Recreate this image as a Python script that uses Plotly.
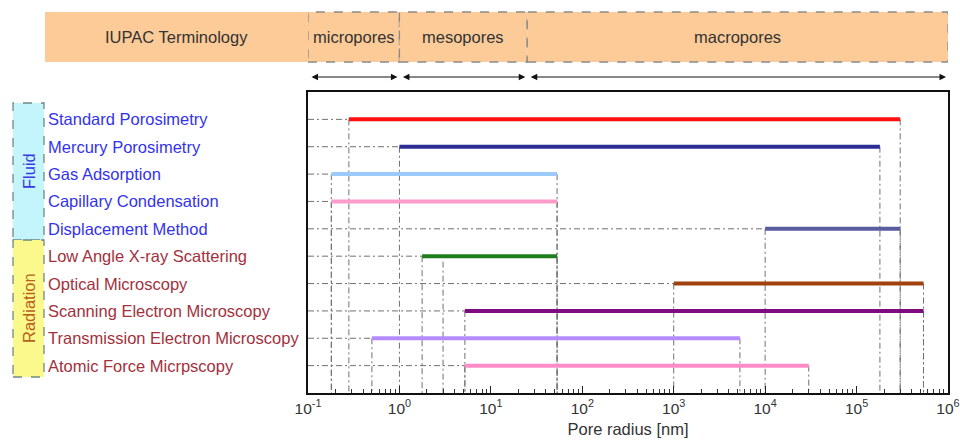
import math
import plotly.graph_objects as go

# ---------------- data ----------------
methods = ["Standard Porosimetry", "Mercury Porosimetry", "Gas Adsorption",
           "Capillary Condensation", "Displacement Method",
           "Low Angle X-ray Scattering", "Optical Microscopy",
           "Scanning Electron Microscopy", "Transmission Electron Microscopy",
           "Atomic Force Micrpscopy"]
groups = ["Fluid"] * 5 + ["Radiation"] * 5
range_min = [0.28, 1.0, 0.18, 0.18, 1.0e4, 1.77, 1.0e3, 5.2, 0.5, 5.2]   # nm
range_max = [3.0e5, 1.8e5, 53, 53, 3.0e5, 53, 5.4e5, 5.4e5, 5.3e3, 3.0e4]  # nm
bar_colors = ["#FF1010", "#2B2D94", "#9CCBFA", "#FF9CCB", "#5A5C9E",
              "#1E7E1E", "#A0420C", "#7E0C80", "#B58CFF", "#FF8CC8"]
extra_guides_x = [3.0]        # stray vertical guide below Low Angle X-ray row
extra_guides_row = [6]

iupac_names = ["micropores", "mesopores", "macropores"]
iupac_bounds = [0.1, 1.0, 25.0, 1.0e6]

tick_vals = [0.1, 1, 10, 100, 1e3, 1e4, 1e5, 1e6]
tick_text = ["10<sup>-1</sup>", "10<sup>0</sup>", "10<sup>1</sup>", "10<sup>2</sup>",
             "10<sup>3</sup>", "10<sup>4</sup>", "10<sup>5</sup>", "10<sup>6</sup>"]

# ---------------- figure ----------------
W, H = 960, 442
ML, MR, MT, MB = 308, 12, 92, 49
PH = H - MT - MB
PW = W - ML - MR

def py(pix):  # pixel y (from top) -> paper y
    return (H - MB - pix) / PH

def px(pix):  # pixel x -> paper x
    return (pix - ML) / PW

FONT = "Liberation Sans, Arial, sans-serif"
GUIDE = dict(color="#707070", width=1, dash="6px,3px,2px,3px")
x_left = iupac_bounds[0]
y_bottom = len(methods) + 1

fig = go.Figure()
rows = list(range(1, len(methods) + 1))

# horizontal guides (axis -> start of range)
for r, lo in zip(rows, range_min):
    fig.add_trace(go.Scatter(x=[x_left, lo], y=[r, r], mode="lines",
                             line=GUIDE, hoverinfo="skip", showlegend=False))
# vertical guides (each end of range -> x axis)
for r, lo, hi in zip(rows, range_min, range_max):
    for v in (lo, hi):
        fig.add_trace(go.Scatter(x=[v, v], y=[r, y_bottom], mode="lines",
                                 line=GUIDE, hoverinfo="skip", showlegend=False))
for v, r in zip(extra_guides_x, extra_guides_row):
    fig.add_trace(go.Scatter(x=[v, v], y=[r + 0.2, y_bottom], mode="lines",
                             line=GUIDE, hoverinfo="skip", showlegend=False))
# range bars
for r, lo, hi, c, name in zip(rows, range_min, range_max, bar_colors, methods):
    fig.add_trace(go.Scatter(x=[lo, hi], y=[r, r], mode="lines", name=name,
                             line=dict(color=c, width=4), showlegend=False))

shapes = []
ann = []

# IUPAC header
PEACH = "#FCCB98"
shapes.append(dict(type="rect", xref="paper", yref="paper",
                   x0=px(45), x1=0, y0=py(62), y1=py(12),
                   fillcolor=PEACH, line=dict(width=0), layer="below"))
ann.append(dict(xref="paper", yref="paper", x=px(45) / 2, y=py(37),
                xanchor="center", yanchor="middle",
                text="IUPAC Terminology", showarrow=False,
                font=dict(size=16.5, color="#333333", family=FONT)))
for i, name in enumerate(iupac_names):
    a, b = iupac_bounds[i], iupac_bounds[i + 1]
    shapes.append(dict(type="rect", xref="x", yref="paper",
                       x0=a, x1=b, y0=py(62), y1=py(12),
                       fillcolor=PEACH, layer="below",
                       line=dict(color="#8A8A8A", width=1.3, dash="dash")))
    ann.append(dict(xref="x", yref="paper",
                    x=(math.log10(a) + math.log10(b)) / 2, y=py(37),
                    xanchor="center", yanchor="middle",
                    text=name, showarrow=False,
                    font=dict(size=16.5, color="#333333", family=FONT)))
    ann.append(dict(xref="x", yref="paper", axref="x", ayref="pixel",
                    x=math.log10(b), y=py(77), ax=math.log10(a), ay=0,
                    text="", showarrow=True, arrowside="end+start",
                    arrowhead=2, arrowsize=1.3, arrowwidth=1,
                    arrowcolor="#111111", standoff=2, startstandoff=2))

# group boxes
group_style = {"Fluid": ("#C4F4FC", "#3A3AE0", "#3333EE"),
               "Radiation": ("#FBF88C", "#B8601C", "#A3313C")}
group_pix = {"Fluid": (103, 240), "Radiation": (240, 377)}
for g in ["Fluid", "Radiation"]:
    fill, tcol, _ = group_style[g]
    t, b = group_pix[g]
    shapes.append(dict(type="rect", xref="paper", yref="paper",
                       x0=px(13), x1=px(44), y0=py(b), y1=py(t),
                       fillcolor=fill, layer="below",
                       line=dict(color="#6F8A80", width=1.3, dash="dash")))
    ann.append(dict(xref="paper", yref="paper", x=(px(13) + px(44)) / 2,
                    y=(py(b) + py(t)) / 2, xanchor="center", yanchor="middle",
                    text=g, textangle=-90,
                    showarrow=False, font=dict(size=16.5, color=tcol, family=FONT)))

# method labels
for r, name, g in zip(rows, methods, groups):
    ann.append(dict(xref="paper", yref="y", x=px(46), y=r, xanchor="left",
                    yanchor="middle",
                    text=name, showarrow=False,
                    font=dict(size=16.5, color=group_style[g][2], family=FONT)))

fig.update_layout(
    width=W, height=H,
    margin=dict(l=ML, r=MR, t=MT, b=MB, autoexpand=False),
    paper_bgcolor="white", plot_bgcolor="white",
    font=dict(family=FONT, size=15.5, color="#333333"),
    shapes=shapes, annotations=ann, showlegend=False,
    xaxis=dict(type="log", range=[-1, 6], tickvals=tick_vals, ticktext=tick_text,
               ticks="inside", ticklen=7, tickcolor="#222", showgrid=False,
               zeroline=False, showline=True, linecolor="#111", linewidth=2,
               mirror=True, tickfont=dict(size=15.5, color="#333"),
               ticklabeloverflow="allow",
               automargin=False,
               minor=dict(ticks="inside", ticklen=4, dtick="D1", tickcolor="#333",
                          showgrid=False),
               title=dict(text="Pore radius [nm]", standoff=8,
                          font=dict(size=16.5, color="#333"))),
    yaxis=dict(range=[y_bottom, 0], showticklabels=False, ticks="", showgrid=False,
               zeroline=False, showline=True, linecolor="#111", linewidth=2,
               mirror=True, automargin=False),
)

fig.write_html("out.html")
